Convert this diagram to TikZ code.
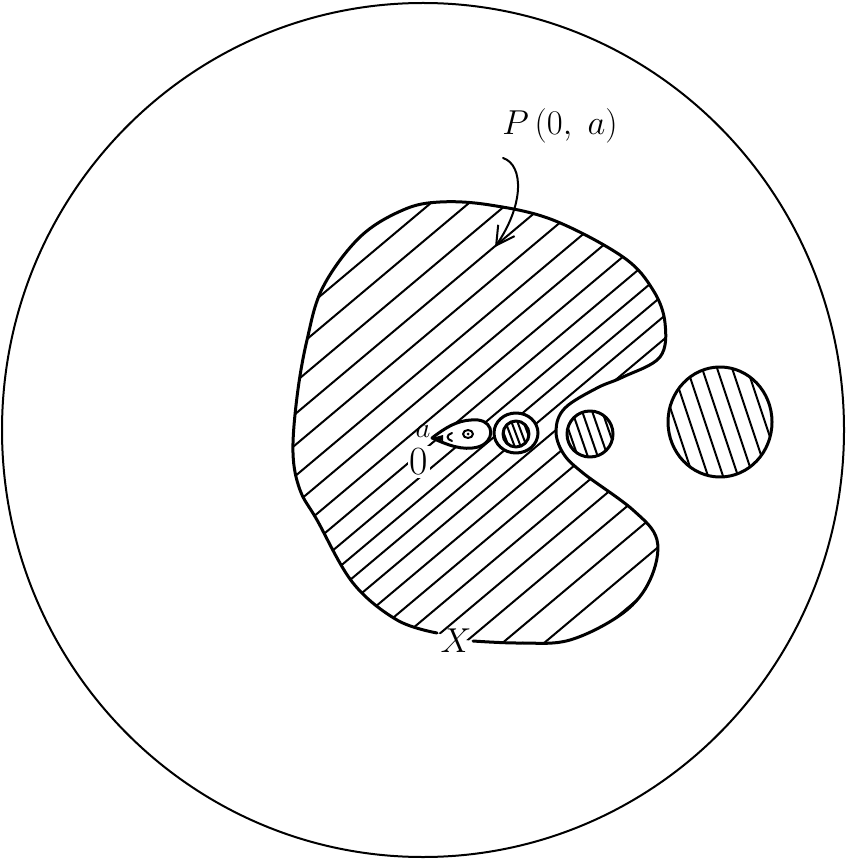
\documentclass[tikz,border=0pt]{standalone}
\usetikzlibrary{arrows.meta}
\begin{document}
\begin{tikzpicture}[x=0.5pt,y=-0.5pt,line join=round,line cap=round]
\tikzset{
  outline/.style={line width=1.5pt},
  hatch/.style={line width=1pt},
  lbl/.style={inner sep=1pt}
}
\useasboundingbox (0,0) rectangle (845,860);
% outer disc
\draw[line width=1pt] (423,430) ellipse [x radius=421, y radius=427];

% hatching of the main region
\begin{scope}
\clip plot[smooth cycle, tension=0.6] coordinates {
 (473,641) (520,643) (570,640) (623,613) (650,580) (657,540) (633,510)
 (583,473) (563,453) (556,430) (565,408) (597,388) (623,377) (660,357)
 (665,323) (653,290) (623,257) (553,220) (490,205) (440,202) (403,210)
 (360,237) (323,287) (307,340) (297,397) (293,453) (300,490) (317,520)
 (353,583) (397,620) (437,633)};
\foreach \hh in {450,457,465,474,485,498,515,537,565,597,630,662,693,724,
  752,780,806,830,852,874,897,922,948,975,1003,1033,1065,1100,1135,1170}
  \draw[hatch] (250,{\hh-210}) -- (700,{\hh-588});
\end{scope}

% holes inside the region
\fill[white] (432,438) .. controls (450,424) and (462,419) .. (478,420)
  .. controls (495,422) and (495,442) .. (478,447)
  .. controls (462,451) and (448,445) .. (432,438) -- cycle;
\fill[white] (516,433) ellipse [x radius=22, y radius=20];

% outline of the main region (open at X)
\draw[outline] plot[smooth, tension=0.6] coordinates {
 (473,641) (520,643) (570,640) (623,613) (650,580) (657,540) (633,510)
 (583,473) (563,453) (556,430) (565,408) (597,388) (623,377) (660,357)
 (665,323) (653,290) (623,257) (553,220) (490,205) (440,202) (403,210)
 (360,237) (323,287) (307,340) (297,397) (293,453) (300,490) (317,520)
 (353,583) (397,620) (437,633)};

% teardrop around a
\draw[outline] (432,438) .. controls (450,424) and (462,419) .. (478,420)
  .. controls (495,422) and (495,442) .. (478,447)
  .. controls (462,451) and (448,445) .. (432,438) -- cycle;
\fill (432,438) -- (443,435) -- (443,441) -- cycle;
\draw[hatch] (452,433) .. controls (446,435) and (446,439) .. (452,441);
\draw[hatch] (468,434) ellipse [x radius=5, y radius=4];
\fill (468,434) circle [radius=1.5];

% ring with hatched core
\draw[outline] (516,433) ellipse [x radius=22, y radius=20];
\begin{scope}
\clip (516,434) circle [radius=13];
\foreach \dx in {-12,-6,0,6,12}
  \draw[hatch] ({516+\dx-6},418) -- ({516+\dx+6},450);
\end{scope}
\draw[outline] (516,434) circle [radius=13];

% hatched disc in the notch
\begin{scope}
\clip (590,434) circle [radius=23];
\foreach \dx in {-20,-10,0,10,20}
  \draw[hatch] ({590+\dx-9},408) -- ({590+\dx+9},460);
\end{scope}
\draw[outline] (590,434) circle [radius=23];

% far right hatched disc
\begin{scope}
\clip (720,422) ellipse [x radius=52, y radius=55];
\foreach \dx in {-45,-30,-15,0,15,30,45}
  \draw[hatch] ({720+\dx-20},362) -- ({720+\dx+20},482);
\end{scope}
\draw[outline] (720,422) ellipse [x radius=52, y radius=55];

% labels
\node[lbl] (la) at (423,431) {\fontsize{15}{17}\selectfont $a$};
\node[lbl,fill=white] (lo) at (419,462) {\fontsize{20}{22}\selectfont 0};
\node[lbl] (lx) at (456,641) {\fontsize{18}{20}\selectfont $X$};
\node[lbl] (lp) at (560,126) {\fontsize{19}{22}\selectfont $P\,(0,\;a)$};

% arrow from label
\coordinate (arrS) at (503,158);
\coordinate (arrE) at (495,247);
\draw[line width=1pt,-{Straight Barb[length=9pt,width=10pt]}]
  (arrS) .. controls (524,165) and (524,205) .. (arrE);
\end{tikzpicture}
\end{document}
